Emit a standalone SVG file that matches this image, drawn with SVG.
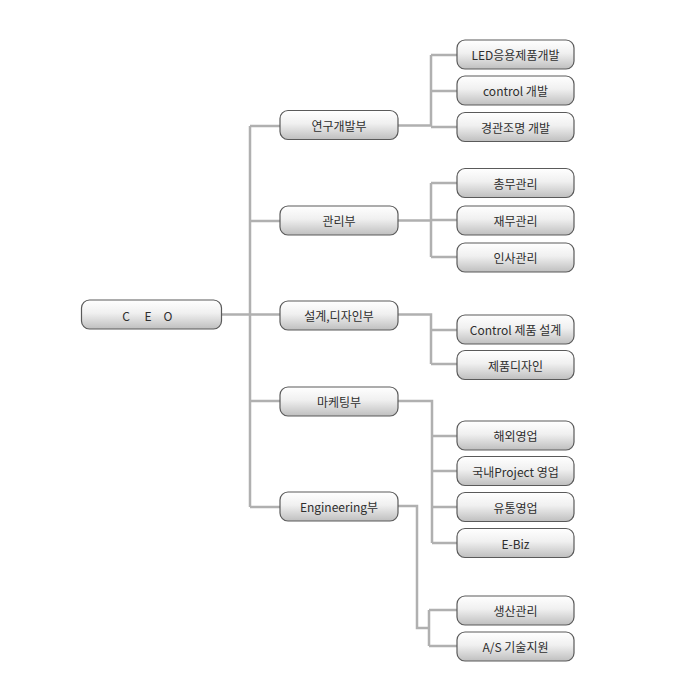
<svg xmlns="http://www.w3.org/2000/svg" width="680" height="700" viewBox="0 0 680 700">
<defs>
<linearGradient id="g" x1="0" y1="0" x2="0" y2="1">
<stop offset="0" stop-color="#ffffff"/>
<stop offset="0.45" stop-color="#f0f0f0"/>
<stop offset="1" stop-color="#bfbfbf"/>
</linearGradient>
</defs>
<style>
.b{fill:url(#g);stroke:#5a5a5a;stroke-width:1.2}
.t{font-family:"Noto Sans CJK KR","Noto Sans",sans-serif;font-size:12px;fill:#2e2e2e;text-anchor:middle;dominant-baseline:central}
.c{fill:none;stroke:#b0b0b0;stroke-width:2.5}
</style>
<rect width="680" height="700" fill="#fff"/>
<g id="connectors" class="c">
<path d="M221 314.5H250M250 126V507M250 126H280M250 221H280M250 314.5H280M250 401H280M250 507H280"/>
<path d="M398 125.5H431M431 55V126M431 55H457M431 91H457M431 127H457"/>
<path d="M398 220.5H431M431 183V257M431 183H457M431 220H457M431 257H457"/>
<path d="M398 314.5H431V364M431 330H457M431 364H457"/>
<path d="M398 401H432V543M432 436H457M432 471H457M432 507H457M432 543H457"/>
<path d="M398 506H417V628H429M429 610V646M429 610H457M429 646H457"/>
</g>
<g id="ceo"><rect class="b" x="81.5" y="300" width="140" height="29" rx="8"/><text class="t" x="126 148 168" y="315">CEO</text></g>
<g id="d1"><rect class="b" x="280" y="110.5" width="118" height="29" rx="8"/><text class="t" x="339" y="125">연구개발부</text></g>
<g id="d2"><rect class="b" x="280" y="206" width="118" height="29" rx="8"/><text class="t" x="339" y="220.5">관리부</text></g>
<g id="d3"><rect class="b" x="280" y="301" width="118" height="29" rx="8"/><text class="t" x="339" y="315.5">설계,디자인부</text></g>
<g id="d4"><rect class="b" x="280" y="387" width="118" height="29" rx="8"/><text class="t" x="339" y="401.5">마케팅부</text></g>
<g id="d5"><rect class="b" x="280" y="492" width="118" height="29" rx="8"/><text class="t" x="339" y="506.5">Engineering부</text></g>
<g id="n1"><rect class="b" x="457" y="40" width="117" height="29" rx="8"/><text class="t" x="515.5" y="54.5">LED응용제품개발</text></g>
<g id="n2"><rect class="b" x="457" y="76" width="117" height="29" rx="8"/><text class="t" x="515.5" y="90.5">control 개발</text></g>
<g id="n3"><rect class="b" x="457" y="112.5" width="117" height="29" rx="8"/><text class="t" x="515.5" y="127">경관조명 개발</text></g>
<g id="n4"><rect class="b" x="457" y="168.5" width="117" height="29" rx="8"/><text class="t" x="515.5" y="183">총무관리</text></g>
<g id="n5"><rect class="b" x="457" y="206" width="117" height="29" rx="8"/><text class="t" x="515.5" y="220.5">재무관리</text></g>
<g id="n6"><rect class="b" x="457" y="243" width="117" height="29" rx="8"/><text class="t" x="515.5" y="257.5">인사관리</text></g>
<g id="n7"><rect class="b" x="457" y="315" width="117" height="29" rx="8"/><text class="t" x="515.5" y="329.5">Control 제품 설계</text></g>
<g id="n8"><rect class="b" x="457" y="350.5" width="117" height="29" rx="8"/><text class="t" x="515.5" y="365">제품디자인</text></g>
<g id="n9"><rect class="b" x="457" y="421" width="117" height="29" rx="8"/><text class="t" x="515.5" y="435.5">해외영업</text></g>
<g id="n10"><rect class="b" x="457" y="456.5" width="117" height="29" rx="8"/><text class="t" x="515.5" y="471">국내Project 영업</text></g>
<g id="n11"><rect class="b" x="457" y="492.5" width="117" height="29" rx="8"/><text class="t" x="515.5" y="507">유통영업</text></g>
<g id="n12"><rect class="b" x="457" y="528.5" width="117" height="29" rx="8"/><text class="t" x="515.5" y="543">E-Biz</text></g>
<g id="n13"><rect class="b" x="457" y="596" width="117" height="29" rx="8"/><text class="t" x="515.5" y="610.5">생산관리</text></g>
<g id="n14"><rect class="b" x="457" y="632" width="117" height="29" rx="8"/><text class="t" x="515.5" y="646.5">A/S 기술지원</text></g>
</svg>
